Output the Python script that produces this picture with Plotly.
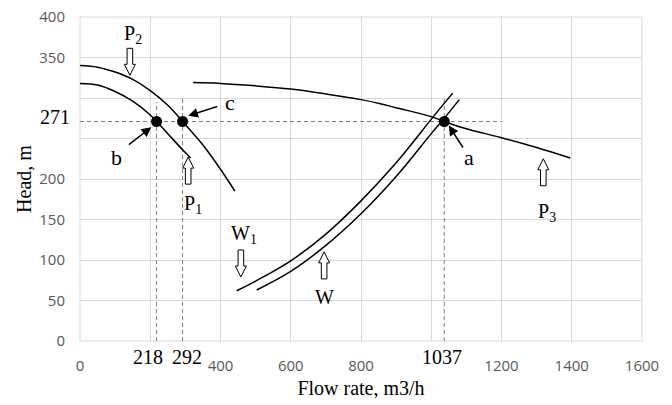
import plotly.graph_objects as go

# ---- data ----
p2_q = [0, 50, 100, 150, 200, 250, 292, 350, 400, 441]
p2_h = [340, 338, 332, 323, 309, 291, 271, 242, 212, 185]

p1_q = [0, 50, 100, 150, 200, 218, 250, 290, 315]
p1_h = [318, 316, 308, 296, 279, 271, 256, 237, 226]

p3_q = [322, 400, 500, 600, 700, 800, 855, 900, 1000, 1037, 1100, 1200, 1300, 1396]
p3_h = [319, 318, 315, 311, 305, 298, 293, 288, 277, 271, 262, 251, 239, 226]

w1_q = [446, 500, 600, 700, 800, 900, 1006, 1061]
w1_h = [62, 74, 99, 132, 173, 220, 277, 306]

w_q = [503, 600, 700, 800, 900, 1000, 1037, 1080]
w_h = [63, 86, 118, 157, 203, 256, 275, 298]

op_q = [1037, 218, 292]          # a, b, c
op_h = [271, 271, 271]
op_names = ["a", "b", "c"]

head_level = 271
hline_q = [0, 1200]
vline_tops = [300, 295, 300]

x_tickvals = [0, 200, 400, 600, 800, 1000, 1200, 1400, 1600]
x_ticktext = ["0", "", "400", "600", "800", "", "1200", "1400", "1600"]
y_tickvals = [0, 50, 100, 150, 200, 250, 300, 350, 400]
y_ticktext = ["0", "50", "100", "150", "200", "", "", "350", "400"]

# curve labels: (text, flow, head)
curve_labels = [
    ("P<sub>2</sub>", 151, 379),
    ("P<sub>1</sub>", 322, 168),
    ("P<sub>3</sub>", 1330, 159),
    ("W<sub>1</sub>", 467, 131),
    ("W", 697, 54),
]
# hollow arrows: (flow, head at tip, direction)
hollow_arrows = [
    (142, 328, "down"),
    (308, 227, "up"),
    (458, 79, "down"),
    (695, 110, "up"),
    (1319, 225, "up"),
]
# pointer arrows: (label, tail flow, tail head, tip flow, tip head, label flow, label head)
pointers = [
    ("c", 395, 290, 308, 278, 427, 294),
    ("b", 135, 241, 203, 264, 105, 227),
    ("a", 1093, 237, 1050, 266, 1107, 227),
]

SERIF = "Liberation Serif"
GRID = "#d9d9d9"
fig = go.Figure()

# dashed reference lines
fig.add_trace(go.Scatter(x=hline_q, y=[head_level, head_level], mode="lines",
                         line=dict(color="#808080", width=1, dash="4px,3px"),
                         hoverinfo="skip", showlegend=False))
for q, top in zip(op_q, vline_tops):
    fig.add_trace(go.Scatter(x=[q, q], y=[0, top], mode="lines",
                             line=dict(color="#808080", width=1, dash="4px,3px"),
                             hoverinfo="skip", showlegend=False))

for qs, hs in [(p2_q, p2_h), (p1_q, p1_h), (p3_q, p3_h), (w1_q, w1_h), (w_q, w_h)]:
    fig.add_trace(go.Scatter(x=qs, y=hs, mode="lines",
                             line=dict(color="black", width=1.5, shape="spline", smoothing=1),
                             showlegend=False))

fig.add_trace(go.Scatter(x=op_q, y=op_h, mode="markers", marker=dict(color="black", size=11),
                         showlegend=False))

# plot-area frame in grid colour (top and right grid lines at the range ends)
fig.add_shape(type="rect", xref="paper", yref="paper", x0=0, x1=1, y0=0, y1=1,
              line=dict(color=GRID, width=1), layer="below")

# hollow block arrows (pixel-sized path anchored at the tip)
down_path = "M0,0 L-5.5,11 L-2.8,11 L-2.8,27 L2.8,27 L2.8,11 L5.5,11 Z"
up_path = "M0,0 L-5.5,-11 L-2.8,-11 L-2.8,-27 L2.8,-27 L2.8,-11 L5.5,-11 Z"
for q, h, d in hollow_arrows:
    fig.add_shape(type="path", xref="x", yref="y", xsizemode="pixel", ysizemode="pixel",
                  xanchor=q, yanchor=h, path=down_path if d == "down" else up_path,
                  line=dict(color="black", width=1), fillcolor="white")

for t, q, h in curve_labels:
    fig.add_annotation(x=q, y=h, text=t, showarrow=False,
                       font=dict(family=SERIF, size=20, color="black"))

for t, tq, th, q, h, lq, lh in pointers:
    fig.add_annotation(x=q, y=h, ax=tq, ay=th, axref="x", ayref="y", text="",
                       showarrow=True, arrowhead=2, arrowsize=1.3, arrowwidth=1.5, arrowcolor="black")
    fig.add_annotation(x=lq, y=lh, text=t, showarrow=False,
                       font=dict(family=SERIF, size=22, color="black"))

# custom serif tick labels
fig.add_annotation(x=0, y=head_level, text=str(head_level), showarrow=False, xanchor="right",
                   xshift=-8, yshift=4, font=dict(family=SERIF, size=20, color="black"))
for q, xs in zip(op_q, [-2, -9, 4]):
    fig.add_annotation(x=q, y=0, text=str(q), showarrow=False, yanchor="top", yshift=-3, xshift=xs,
                       font=dict(family=SERIF, size=20, color="black"))

fig.update_xaxes(range=[0, 1600], tickvals=x_tickvals, ticktext=x_ticktext, automargin=False,
                 showgrid=True, gridcolor=GRID, gridwidth=1, zeroline=False, showline=False,
                 ticks="", ticklabelstandoff=14, ticklabeloverflow="allow",
                 tickfont=dict(family="Open Sans", size=15, color="#595959"),
                 title=dict(text="Flow rate, m3/h", font=dict(family=SERIF, size=20, color="black"),
                            standoff=6))
fig.update_yaxes(range=[0, 400], tickvals=y_tickvals, ticktext=y_ticktext, automargin=False,
                 showgrid=True, gridcolor=GRID, gridwidth=1, zeroline=False, showline=False,
                 ticks="", ticklabelstandoff=14, ticklabeloverflow="allow",
                 tickfont=dict(family="Open Sans", size=15, color="#595959"),
                 title=dict(text="Head, m", font=dict(family=SERIF, size=20, color="black"),
                            standoff=2))
fig.update_layout(width=672, height=405, margin=dict(l=80, r=30, t=17, b=64),
                  plot_bgcolor="white", paper_bgcolor="white", showlegend=False)

# remove the default page margin so the figure fills the window exactly; hide the modebar
fig.write_html("out.html", config={"displayModeBar": False},
               post_script="document.body.style.margin='0';")
